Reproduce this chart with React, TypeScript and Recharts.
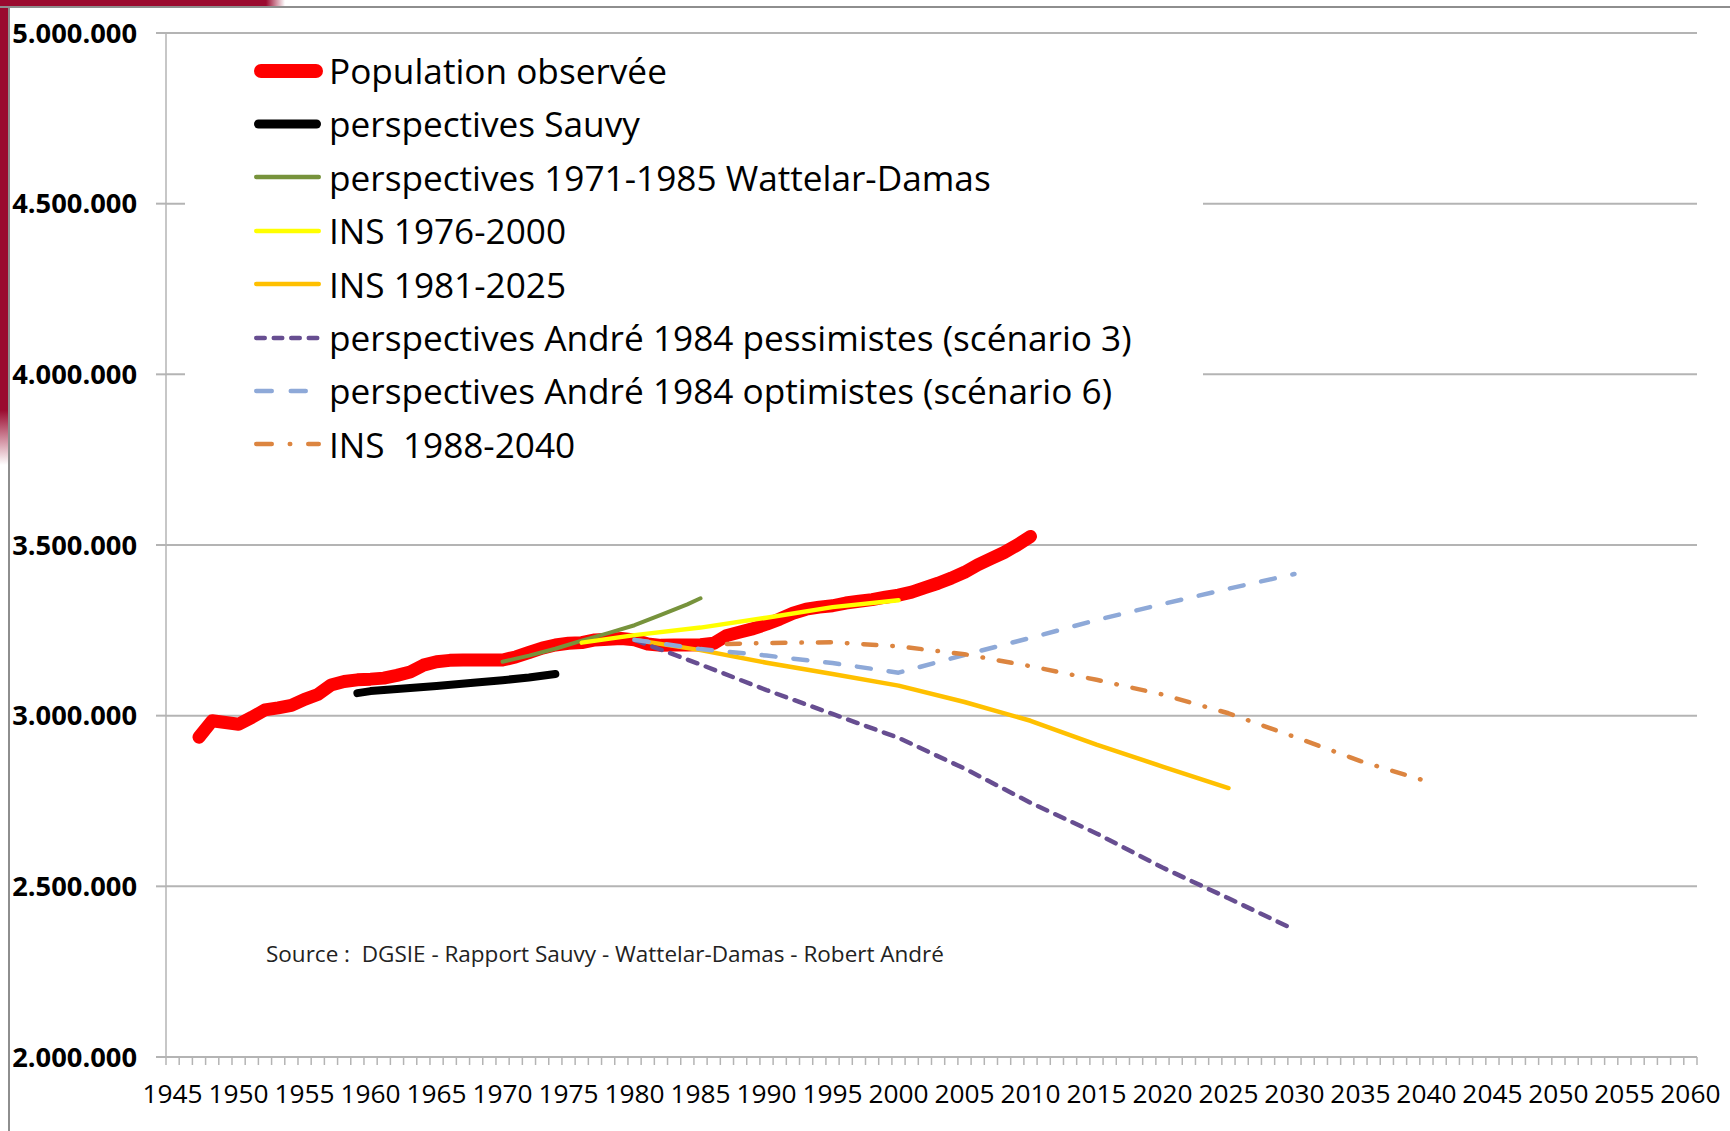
import React from 'react';
import { LineChart, Line, XAxis, YAxis, CartesianGrid, Legend } from 'recharts';

// ---------- data ----------
const OBS_START_YEAR = 1947;
const OBS_VALUES = [
  2937000, 2985000, 2980000, 2975000, 2995000, 3017000, 3023000, 3030000, 3048000, 3062000,
  3090000, 3100000, 3105000, 3107000, 3110000, 3118000, 3128000, 3148000, 3158000, 3162000,
  3163000, 3163000, 3163000, 3163000, 3172000, 3185000, 3198000, 3207000, 3212000, 3214000,
  3222000, 3224000, 3226000, 3222000, 3210000, 3206000, 3207000, 3207000, 3208000, 3212000,
  3235000, 3245000, 3255000, 3268000, 3283000, 3300000, 3312000, 3318000, 3322000, 3330000,
  3335000, 3340000, 3347000, 3353000, 3362000, 3375000, 3388000, 3403000, 3420000, 3442000,
  3460000, 3478000, 3500000, 3525000,
];

const SAUVY_YEARS = [1959, 1960, 1962, 1965, 1968, 1970, 1972, 1974];
const SAUVY_VALUES = [3066000, 3072000, 3078000, 3087000, 3097000, 3104000, 3112000, 3122000];

const WD_YEARS = [1970, 1972, 1974, 1976, 1978, 1980, 1982, 1984, 1985];
const WD_VALUES = [3158000, 3176000, 3196000, 3220000, 3242000, 3265000, 3295000, 3326000, 3344000];

const INS76_YEARS = [1976, 1980, 1985, 1990, 1995, 2000];
const INS76_VALUES = [3214000, 3236000, 3258000, 3287000, 3318000, 3338000];

const INS81_YEARS = [1980, 1985, 1990, 1995, 2000, 2005, 2010, 2015, 2020, 2025];
const INS81_VALUES = [3222000, 3192000, 3155000, 3122000, 3088000, 3040000, 2985000, 2915000, 2851000, 2788000];

const ANDRE_YEARS = [1980, 1985, 1990, 1995, 2000, 2005, 2010, 2015, 2020, 2025, 2030];
const ANDRE_PESS_VALUES = [3222000, 3150000, 3075000, 3005000, 2935000, 2845000, 2745000, 2655000, 2555000, 2465000, 2373000];
const ANDRE_OPT_VALUES = [3222000, 3195000, 3176000, 3154000, 3126000, 3178000, 3228000, 3280000, 3327000, 3372000, 3415000];

const INS88_YEARS = [1987, 1990, 1995, 2000, 2005, 2010, 2015, 2020, 2025, 2030, 2035, 2040];
const INS88_VALUES = [3210000, 3213000, 3215000, 3203000, 3180000, 3145000, 3105000, 3062000, 3007000, 2938000, 2867000, 2808000];

const X_LABELS = [1945, 1950, 1955, 1960, 1965, 1970, 1975, 1980, 1985, 1990, 1995, 2000, 2005, 2010, 2015, 2020, 2025, 2030, 2035, 2040, 2045, 2050, 2055, 2060];
const Y_TICKS = [2000000, 2500000, 3000000, 3500000, 4000000, 4500000, 5000000];

const SOURCE_TEXT = 'Source :  DGSIE - Rapport Sauvy - Wattelar-Damas - Robert André';

// ---------- build ----------
const toPoints = (years: number[], values: number[]) => years.map((year, i) => ({ year, v: values[i] }));
const OBS_YEARS = OBS_VALUES.map((_, i) => OBS_START_YEAR + i);

type Series = {
  name: string;
  data: { year: number; v: number }[];
  color: string;
  width: number;
  dash?: string;
  legendWidth: number;
  legendDash?: string;
  legendLen: number;
};

const SERIES: Series[] = [
  { name: 'Population observée', data: toPoints(OBS_YEARS, OBS_VALUES), color: '#FF0000', width: 13, legendWidth: 14, legendLen: 69 },
  { name: 'perspectives Sauvy', data: toPoints(SAUVY_YEARS, SAUVY_VALUES), color: '#000000', width: 8, legendWidth: 9, legendLen: 67 },
  { name: 'perspectives 1971-1985 Wattelar-Damas', data: toPoints(WD_YEARS, WD_VALUES), color: '#77933C', width: 4, legendWidth: 4.5, legendLen: 67 },
  { name: 'INS 1976-2000', data: toPoints(INS76_YEARS, INS76_VALUES), color: '#FFFF00', width: 4.5, legendWidth: 4.5, legendLen: 67 },
  { name: 'INS 1981-2025', data: toPoints(INS81_YEARS, INS81_VALUES), color: '#FFC000', width: 4.5, legendWidth: 4.5, legendLen: 67 },
  { name: 'perspectives André 1984 pessimistes (scénario 3)', data: toPoints(ANDRE_YEARS, ANDRE_PESS_VALUES), color: '#674E91', width: 4.5, dash: '10 9', legendWidth: 4.5, legendDash: '8.5 9', legendLen: 67 },
  { name: 'perspectives André 1984 optimistes (scénario 6)', data: toPoints(ANDRE_YEARS, ANDRE_OPT_VALUES), color: '#8EA9D8', width: 4.5, dash: '14 18', legendWidth: 4.5, legendDash: '15.5 19', legendLen: 54 },
  { name: 'INS  1988-2040', data: toPoints(INS88_YEARS, INS88_VALUES), color: '#DC8540', width: 4.5, dash: '13 16 0.5 16', legendWidth: 4.5, legendDash: '15.5 18 0.5 18', legendLen: 67 },
];

// ---------- layout ----------
const W = 1730;
const H = 1131;
const MARGIN = { top: 33, right: 33, bottom: 0, left: 0 };
const Y_AXIS_W = 166;
const X_AXIS_H = 74;
const X_MIN = 1944.5;
const X_MAX = 2060.5;
const PLOT_W = W - MARGIN.left - MARGIN.right - Y_AXIS_W;
const STEP = PLOT_W / (X_MAX - X_MIN);
const X_BOUNDARIES = Array.from({ length: X_MAX - X_MIN + 1 }, (_, i) => X_MIN + i);

const FONT = '"Open Sans", "Noto Sans", sans-serif';
const GRID = '#b4b4b4';

const formatPop = (v: number) => String(v).replace(/\B(?=(\d{3})+(?!\d))/g, '.');

const XTick = (props: any) => {
  const { x, y, payload } = props;
  const center = payload.value + 0.5;
  if (!X_LABELS.includes(center)) return <g />;
  return (
    <text x={x + STEP / 2} y={y + 36} textAnchor="middle" fontFamily={FONT} fontSize={26.3} fill="#000">
      {center}
    </text>
  );
};

const LegendContent = () => (
  <div style={{ paddingTop: 6, fontFamily: FONT }}>
    {SERIES.map((s) => (
      <div key={s.name} style={{ height: 53.4, display: 'flex', alignItems: 'center', position: 'relative' }}>
        <svg width={75} height={20} style={{ position: 'absolute', left: 66 }}>
          <line
            x1={3 + s.legendWidth / 2}
            x2={3 + s.legendLen - s.legendWidth / 2}
            y1={10}
            y2={10}
            stroke={s.color}
            strokeWidth={s.legendWidth}
            strokeLinecap="round"
            strokeDasharray={s.legendDash}
          />
        </svg>
        <span style={{ position: 'absolute', left: 144, fontSize: 35.2, color: '#000', whiteSpace: 'pre', lineHeight: 1 }}>
          {s.name}
        </span>
      </div>
    ))}
  </div>
);

export default function App() {
  return (
    <div style={{ position: 'absolute', left: 0, top: 0, width: W, height: H, background: '#fff', overflow: 'hidden' }}>
      {/* slide frame */}
      <div style={{ position: 'absolute', left: 0, top: 0, width: 290, height: 6, background: 'linear-gradient(to right, #9a0a2f 0, #9a0a2f 266px, rgba(154,10,47,0) 285px)' }} />
      <div style={{ position: 'absolute', left: 0, top: 0, width: 8, height: 470, background: 'linear-gradient(to bottom, #9a0a2f 0, #9a0a2f 410px, rgba(154,10,47,0) 465px)' }} />
      <div style={{ position: 'absolute', left: 0, top: 6, width: W, height: 2, background: '#8e8e8e' }} />
      <div style={{ position: 'absolute', left: 8, top: 6, width: 2, height: H, background: '#8e8e8e' }} />

      <div style={{ position: 'absolute', left: 0, top: 0 }}>
        <LineChart width={W} height={H} margin={MARGIN}>
          <CartesianGrid vertical={false} stroke={GRID} strokeWidth={2} />
          <XAxis
            dataKey="year"
            type="number"
            domain={[X_MIN, X_MAX]}
            ticks={X_BOUNDARIES}
            interval={0}
            height={X_AXIS_H}
            tick={<XTick />}
            tickSize={8}
            tickLine={{ stroke: GRID, strokeWidth: 1.5 }}
            axisLine={{ stroke: GRID, strokeWidth: 2 }}
            allowDataOverflow
          />
          <YAxis
            type="number"
            domain={[2000000, 5000000]}
            ticks={Y_TICKS}
            interval={0}
            width={Y_AXIS_W}
            tickFormatter={formatPop}
            tickSize={10}
            tickMargin={19}
            tick={{ fontFamily: FONT, fontSize: 27.3, fontWeight: 700, fill: '#000' }}
            tickLine={{ stroke: GRID, strokeWidth: 2 }}
            axisLine={{ stroke: GRID, strokeWidth: 1.5 }}
            allowDataOverflow
          />
          {SERIES.map((s) => (
            <Line
              key={s.name}
              name={s.name}
              data={s.data}
              dataKey="v"
              type="linear"
              stroke={s.color}
              strokeWidth={s.width}
              strokeDasharray={s.dash}
              strokeLinecap="round"
              strokeLinejoin="round"
              dot={false}
              activeDot={false}
              isAnimationActive={false}
            />
          ))}
          <Legend
            layout="vertical"
            align="center"
            verticalAlign="middle"
            content={<LegendContent />}
            wrapperStyle={{ position: 'absolute', left: 185, top: 38, width: 1018, height: 432, background: '#fff' }}
          />
        </LineChart>
      </div>

      <div style={{ position: 'absolute', left: 266, top: 943, fontFamily: FONT, fontSize: 22.5, lineHeight: 1, color: '#222', whiteSpace: 'pre' }}>
        {SOURCE_TEXT}
      </div>
    </div>
  );
}
